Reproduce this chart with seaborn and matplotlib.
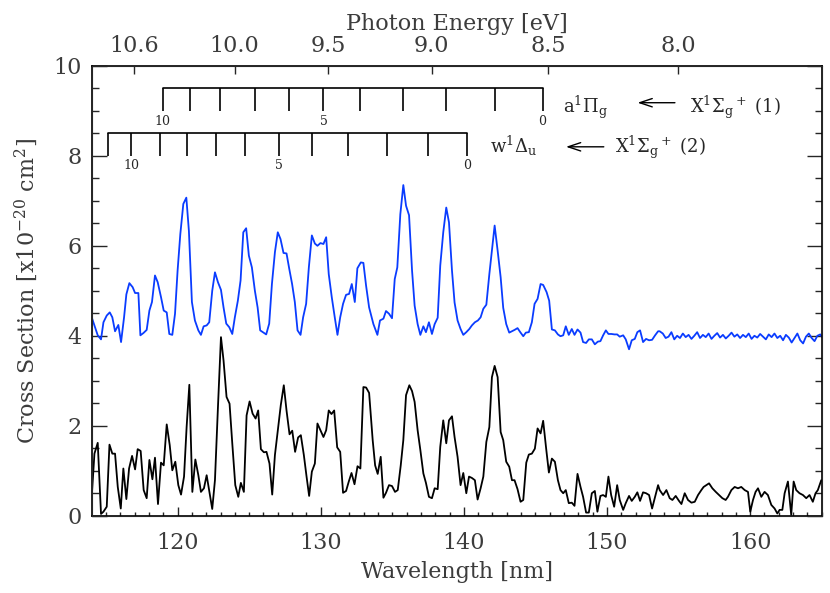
import matplotlib
matplotlib.use("Agg")
import matplotlib.pyplot as plt
import seaborn as sns
import pandas as pd

# blue spectrum (offset by +4)
blue_nm = [114.0, 114.19, 114.42, 114.65, 114.82, 115.05, 115.26, 115.44, 115.63, 115.86,
           116.05, 116.26, 116.42, 116.63, 116.86, 117.03, 117.26, 117.40, 117.61, 117.84,
           118.03, 118.21, 118.42, 118.61, 118.84, 119.03, 119.24, 119.42, 119.63, 119.82,
           120.00, 120.19, 120.40, 120.61, 120.79, 121.00, 121.21, 121.45, 121.63, 121.82,
           122.03, 122.21, 122.42, 122.61, 122.82, 123.03, 123.21, 123.40, 123.61, 123.82,
           124.00, 124.21, 124.40, 124.59, 124.79, 124.98, 125.19, 125.40, 125.59, 125.77,
           126.01, 126.19, 126.40, 126.59, 126.80, 127.00, 127.19, 127.40, 127.61, 127.80,
           128.00, 128.19, 128.38, 128.59, 128.77, 128.98, 129.17, 129.38, 129.59, 129.77,
           129.98, 130.19, 130.38, 130.56, 130.77, 130.98, 131.17, 131.36, 131.56, 131.77,
           131.98, 132.17, 132.38, 132.56, 132.80, 132.98, 133.17, 133.38, 133.68, 133.96,
           134.14, 134.38, 134.56, 134.77, 134.98, 135.17, 135.35, 135.56, 135.77, 135.96,
           136.17, 136.38, 136.56, 136.77, 136.96, 137.17, 137.35, 137.56, 137.77, 137.96,
           138.17, 138.35, 138.56, 138.77, 138.96, 139.17, 139.35, 139.56, 139.77, 139.96,
           140.17, 140.38, 140.56, 140.77, 140.98, 141.17, 141.36, 141.57, 141.78, 141.96,
           142.15, 142.36, 142.57, 142.75, 142.96, 143.17, 143.36, 143.54, 143.75, 143.94,
           144.15, 144.33, 144.54, 144.75, 144.94, 145.15, 145.36, 145.54, 145.78, 145.96,
           146.15, 146.36, 146.57, 146.75, 146.94, 147.12, 147.33, 147.54, 147.73, 147.94,
           148.15, 148.33, 148.54, 148.73, 148.94, 149.15, 149.36, 149.54, 149.73, 149.92,
           150.10, 150.31, 150.52, 150.71, 150.89, 151.13, 151.31, 151.54, 151.73, 151.94,
           152.12, 152.31, 152.52, 152.73, 152.94, 153.15, 153.36, 153.57, 153.68, 153.9,
           154.1, 154.3, 154.5, 154.7, 154.9, 155.1, 155.3, 155.5, 155.7, 155.9,
           156.1, 156.3, 156.5, 156.7, 156.9, 157.1, 157.3, 157.5, 157.7, 157.9,
           158.1, 158.3, 158.5, 158.7, 158.9, 159.1, 159.3, 159.5, 159.7, 159.9,
           160.1, 160.3, 160.5, 160.7, 160.9, 161.1, 161.3, 161.5, 161.7, 161.9,
           162.1, 162.3, 162.5, 162.7, 162.9, 163.1, 163.3, 163.5, 163.7, 163.9,
           164.1, 164.3, 164.5, 164.7, 164.9, 165.0]
blue_val = [4.41, 4.23, 4.01, 3.92, 4.30, 4.45, 4.52, 4.41, 4.10, 4.24,
            3.86, 4.41, 4.92, 5.17, 5.08, 4.95, 4.95, 4.01, 4.06, 4.13,
            4.56, 4.75, 5.34, 5.19, 4.86, 4.56, 4.52, 4.04, 4.02, 4.49,
            5.45, 6.26, 6.93, 7.07, 6.33, 4.75, 4.34, 4.12, 4.02, 4.21,
            4.23, 4.30, 5.00, 5.41, 5.19, 5.02, 4.63, 4.27, 4.19, 4.04,
            4.41, 4.78, 5.23, 6.30, 6.39, 5.78, 5.52, 5.00, 4.63, 4.12,
            4.07, 4.03, 4.27, 5.15, 5.86, 6.30, 6.15, 5.84, 5.83, 5.49,
            5.15, 4.75, 4.12, 4.02, 4.41, 4.71, 5.52, 6.23, 6.05, 6.00,
            6.06, 6.04, 6.19, 5.37, 4.86, 4.41, 4.02, 4.41, 4.71, 4.91,
            4.93, 5.15, 4.75, 5.50, 5.63, 5.62, 5.11, 4.63, 4.26, 4.02,
            4.34, 4.38, 4.55, 4.49, 4.39, 5.26, 5.52, 6.70, 7.35, 6.89,
            6.68, 5.45, 4.67, 4.26, 4.02, 4.21, 4.08, 4.30, 4.04, 4.26,
            4.40, 5.56, 6.30, 6.85, 6.52, 5.45, 4.74, 4.34, 4.15, 4.02,
            4.08, 4.15, 4.23, 4.30, 4.34, 4.41, 4.60, 4.69, 5.37, 5.89,
            6.45, 5.89, 5.30, 4.62, 4.26, 4.07, 4.10, 4.13, 4.17, 4.08,
            3.99, 4.07, 4.08, 4.30, 4.71, 4.82, 5.15, 5.13, 4.97, 4.78,
            4.14, 4.12, 4.03, 3.99, 4.01, 4.21, 4.02, 4.15, 4.02, 4.14,
            4.07, 3.86, 3.84, 3.92, 3.92, 3.81, 3.87, 3.88, 4.01, 4.12,
            4.04, 4.04, 4.03, 4.03, 3.98, 4.01, 3.92, 3.70, 3.90, 3.93,
            4.08, 4.12, 3.86, 3.93, 3.90, 3.91, 4.01, 4.10, 4.10, 4.05,
            3.95, 3.98, 4.08, 3.92, 4.00, 3.95, 4.05, 3.97, 4.02, 3.93,
            4.00, 4.08, 3.95, 4.02, 3.97, 4.05, 3.93, 4.00, 4.06, 3.96,
            4.02, 3.94, 4.00, 4.07, 3.98, 4.03, 3.95, 4.02, 3.97, 4.05,
            3.93, 4.00, 3.96, 4.04, 3.98, 3.92, 4.03, 3.97, 4.05, 3.95,
            4.00, 3.90, 4.02, 3.96, 3.85, 3.95, 4.05, 3.90, 3.83, 3.98,
            4.05, 3.95, 3.88, 4.00, 4.03, 3.98]

# black spectrum
black_nm = [114.0, 114.19, 114.42, 114.65, 114.82, 115.05, 115.24, 115.44, 115.63, 115.82,
            116.03, 116.21, 116.42, 116.61, 116.82, 117.03, 117.21, 117.42, 117.63, 117.84,
            118.03, 118.24, 118.42, 118.63, 118.84, 119.03, 119.24, 119.45, 119.63, 119.84,
            120.05, 120.24, 120.45, 120.63, 120.82, 121.03, 121.24, 121.45, 121.63, 121.84,
            122.03, 122.24, 122.42, 122.61, 122.82, 123.03, 123.21, 123.42, 123.63, 123.82,
            124.03, 124.24, 124.42, 124.63, 124.82, 125.03, 125.24, 125.45, 125.63, 125.82,
            126.03, 126.21, 126.42, 126.61, 126.80, 127.03, 127.21, 127.42, 127.61, 127.82,
            128.01, 128.21, 128.42, 128.61, 128.82, 129.01, 129.19, 129.38, 129.59, 129.77,
            129.98, 130.19, 130.38, 130.56, 130.75, 130.94, 131.15, 131.36, 131.56, 131.77,
            131.96, 132.15, 132.36, 132.57, 132.77, 132.98, 133.17, 133.38, 133.63, 133.80,
            133.98, 134.19, 134.38, 134.56, 134.77, 134.98, 135.19, 135.38, 135.59, 135.77,
            135.96, 136.19, 136.38, 136.56, 136.77, 136.96, 137.17, 137.35, 137.56, 137.77,
            137.96, 138.17, 138.35, 138.56, 138.77, 138.96, 139.17, 139.35, 139.56, 139.77,
            139.96, 140.17, 140.36, 140.56, 140.77, 140.96, 141.17, 141.36, 141.57, 141.78,
            141.96, 142.15, 142.36, 142.57, 142.75, 142.96, 143.17, 143.36, 143.54, 143.75,
            143.96, 144.15, 144.36, 144.54, 144.75, 144.96, 145.15, 145.36, 145.54, 145.75,
            145.94, 146.15, 146.36, 146.57, 146.75, 146.94, 147.12, 147.33, 147.54, 147.73,
            147.94, 148.15, 148.33, 148.54, 148.73, 148.94, 149.15, 149.33, 149.54, 149.73,
            149.92, 150.10, 150.29, 150.50, 150.71, 150.89, 151.13, 151.31, 151.54, 151.73,
            151.94, 152.12, 152.31, 152.52, 152.73, 152.94, 153.15, 153.36, 153.57, 153.68,
            153.92, 154.15, 154.38, 154.57, 154.80, 155.03, 155.20, 155.43, 155.66, 155.90,
            156.13, 156.36, 156.59, 156.75, 157.13, 157.36, 157.60, 157.83, 158.06, 158.29,
            158.45, 158.69, 158.92, 159.15, 159.38, 159.62, 159.85, 160.01, 160.20, 160.38,
            160.55, 160.78, 161.01, 161.24, 161.48, 161.71, 161.90, 162.06, 162.25, 162.41,
            162.64, 162.87, 163.04, 163.22, 163.45, 163.69, 163.92, 164.15, 164.38, 164.57,
            164.73, 164.97]
black_val = [0.42, 1.38, 1.62, 0.04, 0.09, 0.20, 1.58, 1.38, 1.38, 0.64,
             0.16, 1.05, 0.37, 1.05, 1.33, 1.03, 1.48, 1.44, 0.57, 0.39,
             1.24, 0.81, 1.29, 0.26, 1.18, 1.12, 2.03, 1.57, 1.01, 1.20,
             0.68, 0.47, 0.87, 1.97, 2.91, 0.53, 1.25, 0.90, 0.53, 0.61,
             0.90, 0.50, 0.15, 0.79, 2.42, 3.97, 3.45, 2.64, 2.49, 1.61,
             0.68, 0.42, 0.73, 0.53, 2.23, 2.54, 2.27, 2.16, 2.34, 1.48,
             1.41, 1.42, 1.16, 0.47, 1.35, 1.97, 2.46, 2.90, 2.34, 1.81,
             1.89, 1.42, 1.74, 1.79, 1.35, 0.87, 0.44, 0.98, 1.16, 2.05,
             1.90, 1.75, 1.90, 2.34, 2.26, 2.34, 1.52, 1.42, 0.51, 0.55,
             0.76, 0.95, 0.70, 1.10, 1.05, 2.86, 2.85, 2.73, 1.68, 1.12,
             0.93, 1.31, 0.40, 0.51, 0.68, 0.66, 0.53, 0.57, 1.12, 1.68,
             2.68, 2.90, 2.77, 2.53, 1.90, 1.46, 0.94, 0.73, 0.42, 0.39,
             0.61, 0.59, 1.53, 2.12, 1.61, 2.12, 2.21, 1.75, 1.31, 0.68,
             0.95, 0.50, 0.87, 0.84, 0.79, 0.36, 0.61, 0.87, 1.64, 1.97,
             3.08, 3.33, 3.08, 1.86, 1.68, 1.20, 1.09, 0.79, 0.79, 0.59,
             0.31, 0.35, 1.18, 1.36, 1.38, 1.49, 1.94, 1.83, 2.11, 1.49,
             0.96, 1.27, 1.20, 0.79, 0.57, 0.50, 0.57, 0.28, 0.29, 0.22,
             0.93, 0.64, 0.42, 0.07, 0.07, 0.50, 0.55, 0.09, 0.44, 0.46,
             0.42, 0.87, 0.46, 0.20, 0.68, 0.35, 0.13, 0.28, 0.44, 0.33,
             0.42, 0.52, 0.33, 0.52, 0.50, 0.46, 0.16, 0.42, 0.68, 0.57,
             0.46, 0.57, 0.39, 0.35, 0.44, 0.33, 0.26, 0.50, 0.35, 0.29,
             0.31, 0.46, 0.57, 0.64, 0.72, 0.61, 0.53, 0.46, 0.39, 0.35,
             0.42, 0.57, 0.64, 0.61, 0.64, 0.57, 0.53, 0.09, 0.35, 0.53,
             0.61, 0.42, 0.53, 0.46, 0.24, 0.16, 0.05, 0.13, 0.13, 0.50,
             0.76, 0.02, 0.76, 0.57, 0.50, 0.46, 0.39, 0.46, 0.31, 0.50,
             0.57, 0.79]

# vibrational ladders (wavelengths of v levels, high v first)
ladder1_nm = [118.95, 120.89, 122.98, 125.40, 127.79, 130.19, 132.77, 135.77, 138.77, 142.19, 145.50]
ladder1_v = [10, 9, 8, 7, 6, 5, 4, 3, 2, 1, 0]
ladder2_nm = [115.12, 116.77, 118.79, 120.63, 122.68, 124.72, 127.05, 129.38, 131.89, 134.61, 137.47, 140.20]
ladder2_v = [11, 10, 9, 8, 7, 6, 5, 4, 3, 2, 1, 0]

# photon energy axis
energy_ticks = [10.6, 10.0, 9.5, 9.0, 8.5, 8.0]
energy_labels = ["10.6", "10.0", "9.5", "9.0", "8.5", "8.0"]
HC = 1239.84

sns.set_style("ticks")
plt.rcParams['font.family'] = ['DejaVu Serif']
plt.rcParams['mathtext.fontset'] = 'dejavuserif'
TXT = '#3c3c3c'

fig = plt.figure(figsize=(8.3, 5.93), dpi=100)
ax = fig.add_axes([0.1105, 0.1303, 0.8795, 0.7587])

df_blue = pd.DataFrame({"nm": blue_nm, "val": blue_val})
df_black = pd.DataFrame({"nm": black_nm, "val": black_val})
sns.lineplot(data=df_blue, x="nm", y="val", ax=ax, color='#0a3cff', lw=1.3, estimator=None, sort=False)
sns.lineplot(data=df_black, x="nm", y="val", ax=ax, color='black', lw=1.3, estimator=None, sort=False)

ax.set_xlim(114, 165)
ax.set_ylim(0, 10)
ax.set_xticks([120, 130, 140, 150, 160])
ax.set_xticks(range(115, 166), minor=True)
ax.set_yticks([0, 2, 4, 6, 8, 10])
ax.set_yticks([i * 0.5 for i in range(21)], minor=True)
ax.tick_params(axis='x', which='major', direction='in', length=6.5, width=1, top=False,
               labelsize=16, labelcolor=TXT, pad=12)
ax.tick_params(axis='x', which='minor', direction='in', length=3, width=1, top=False)
ax.tick_params(axis='y', which='major', direction='in', length=10.5, width=1, right=True,
               labelsize=16, labelcolor=TXT, pad=7)
ax.tick_params(axis='y', which='minor', direction='in', length=5, width=1, right=True)
for s in ax.spines.values():
    s.set_linewidth(1.2)
    s.set_color('black')
ax.set_xlabel("Wavelength [nm]", fontsize=16, color=TXT, labelpad=5)
ax.set_ylabel(r"Cross Section [x10$^{-20}$ cm$^2$]", fontsize=16, color=TXT, labelpad=10)

top = ax.twiny()
top.set_xlim(ax.get_xlim())
top.set_xticks([HC / e for e in energy_ticks])
top.set_xticklabels(energy_labels)
top.tick_params(axis='x', direction='in', length=6, width=1, labelsize=16, labelcolor=TXT, pad=6)
top.set_xlabel("Photon Energy [eV]", fontsize=16, color=TXT, labelpad=4)

# ladder 1: a1Pi_g <- X (1)
ax.plot([ladder1_nm[0], ladder1_nm[-1]], [9.5, 9.5], color='black', lw=1.2)
ax.vlines(ladder1_nm, 9.0, 9.5, color='black', lw=1.2)
for nm, v in zip(ladder1_nm, ladder1_v):
    if v in (10, 5, 0):
        ax.text(nm, 8.77, str(v), fontsize=9, ha='center', va='center')
# ladder 2: w1Delta_u <- X (2)
ax.plot([ladder2_nm[0], ladder2_nm[-1]], [8.5, 8.5], color='black', lw=1.2)
ax.vlines(ladder2_nm, 8.0, 8.5, color='black', lw=1.2)
for nm, v in zip(ladder2_nm, ladder2_v):
    if v in (10, 5, 0):
        ax.text(nm, 7.79, str(v), fontsize=9, ha='center', va='center')

ax.text(146.9, 8.95, r"a$^1\Pi_\mathrm{g}$", fontsize=13, va='baseline')
ax.text(155.83, 8.95, r"X$^1\Sigma_\mathrm{g}$$^+$ (1)", fontsize=13, va='baseline')
ax.text(141.82, 8.06, r"w$^1\Delta_\mathrm{u}$", fontsize=13, va='baseline')
ax.text(150.55, 8.06, r"X$^1\Sigma_\mathrm{g}$$^+$ (2)", fontsize=13, va='baseline')
arrow = dict(arrowstyle='->,head_length=0.9,head_width=0.3', color='black', lw=1)
ax.annotate("", xy=(151.94, 9.18), xytext=(154.94, 9.18), arrowprops=arrow)
ax.annotate("", xy=(146.94, 8.2), xytext=(149.97, 8.2), arrowprops=arrow)

fig.savefig("out.png", dpi=100)
